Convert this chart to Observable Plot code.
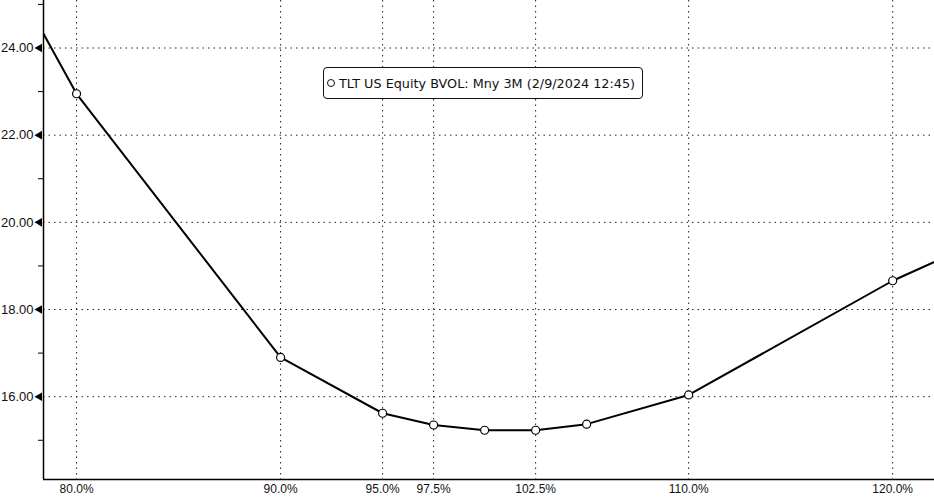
<!DOCTYPE html>
<html>
<head>
<meta charset="utf-8">
<script src="https://cdn.jsdelivr.net/npm/d3@7"></script>
<script src="https://cdn.jsdelivr.net/npm/@observablehq/plot@0.6"></script>
<style>
  html, body { margin: 0; padding: 0; background: #fff; }
  #wrap { position: relative; width: 934px; height: 498px; }
  #legend {
    position: absolute; left: 323px; top: 67px; width: 320px; height: 32px;
    border: 1px solid #111; border-radius: 4px; box-sizing: border-box; background: #fff;
    font-family: "DejaVu Sans", sans-serif; font-size: 12.8px; color: #111;
    display: flex; align-items: center; padding-left: 3px; white-space: nowrap;
  }
  #legend .m { flex: 0 0 auto; display: inline-block; width: 6px; height: 6px; border: 1px solid #111; border-radius: 50%; margin-right: 4px; }
</style>
</head>
<body>
<div id="wrap"></div>
<script>
// Moneyness (% of spot) and 3M implied vol (BVOL)
const moneyness = [75, 80, 90, 95, 97.5, 100, 102.5, 105, 110, 120, 125];
const bvol      = [27.2, 22.95, 16.9, 15.62, 15.35, 15.23, 15.23, 15.37, 16.04, 18.66, 19.71];
const marked    = [false, true, true, true, true, true, true, true, true, true, false];
const xTicks = [80, 90, 95, 97.5, 102.5, 110, 120];
const yMajor = [16, 18, 20, 22, 24];
const yMinor = [15, 17, 19, 21, 23, 25];
const legendLabel = "TLT US Equity BVOL: Mny 3M (2/9/2024 12:45)";

const data = moneyness.map((m, i) => ({m, v: bvol[i], marked: marked[i]}));
const xDom = [78.38, 122.05];
const yDom = [14.1, 25.09];

const chart = Plot.plot({
  width: 934,
  height: 498,
  marginLeft: 43,
  marginRight: 0,
  marginTop: 0,
  marginBottom: 19,
  style: {fontFamily: "Liberation Sans, sans-serif", fontSize: "12px", color: "#111", background: "#fff"},
  x: {domain: xDom, type: "linear"},
  y: {domain: yDom},
  marks: [
    Plot.gridY(yMajor, {stroke: "#222", strokeOpacity: 1, strokeDasharray: "1.5,4"}),
    Plot.gridX(xTicks, {stroke: "#222", strokeOpacity: 1, strokeDasharray: "1.5,4"}),
    Plot.line(data, {x: "m", y: "v", stroke: "#000", strokeWidth: 2, clip: true}),
    Plot.dot(data.filter(d => d.marked), {x: "m", y: "v", r: 4, fill: "#fff", stroke: "#000", strokeWidth: 1.2}),
    Plot.ruleX([xDom[0]], {stroke: "#000", strokeWidth: 1.5}),
    Plot.ruleY([yDom[0]], {stroke: "#000", strokeWidth: 1.5}),
    Plot.axisY(yMinor, {tickSize: 5, label: null, text: null, stroke: "#000"}),
    Plot.dot(yMajor, {x: () => xDom[0], y: d => d, symbol: "triangle", r: 3.2, rotate: -90, dx: -4, fill: "#000", stroke: "none"}),
    Plot.axisY(yMajor, {tickSize: 0, tickPadding: 10, label: null, tickFormat: d3.format(".2f"), fontSize: 13}),
    Plot.axisX(xTicks, {tickSize: 0, tickPadding: 5, label: null, tickFormat: d => d3.format(".1f")(d) + "%", fontSize: 12})
  ]
});

const wrap = document.getElementById("wrap");
wrap.appendChild(chart);
const leg = document.createElement("div");
leg.id = "legend";
leg.innerHTML = '<span class="m"></span><span></span>';
leg.lastChild.textContent = legendLabel;
wrap.appendChild(leg);
</script>
</body>
</html>
